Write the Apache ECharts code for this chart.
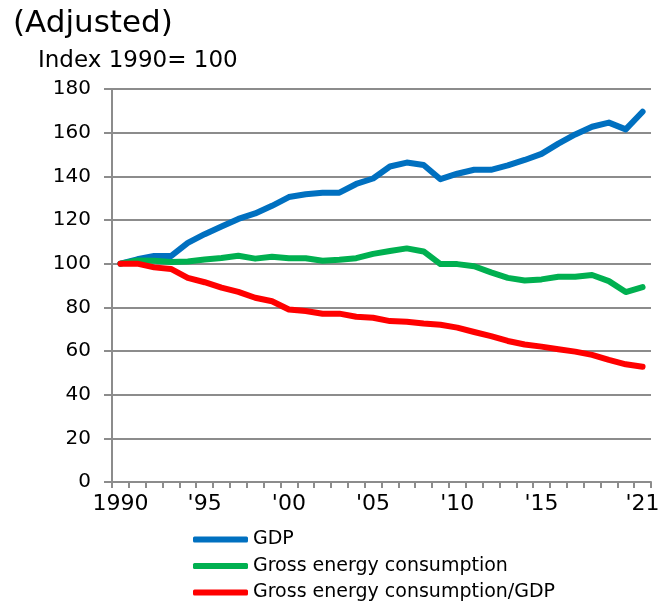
<!DOCTYPE html>
<html>
<head>
<meta charset="utf-8">
<script src="https://cdn.jsdelivr.net/npm/echarts@6/dist/echarts.min.js"></script>
<style>
  html, body { margin: 0; padding: 0; background: #fff; }
  #chart { width: 671px; height: 603px; }
</style>
</head>
<body>
<div id="chart"></div>
<script>
var years = [];
for (var y = 1990; y <= 2021; y++) years.push(String(y));
var tickLabels = {'1990': '1990', '1995': "'95", '2000': "'00", '2005': "'05", '2010': "'10", '2015': "'15", '2021': "'21"};

var gdp = [100, 102, 103.5, 103.5, 109.5, 113.5, 117, 120.5, 123, 126.5, 130.5, 131.8, 132.5, 132.5, 136.5, 139, 144.5, 146.3, 145.2, 138.7, 141.2, 143, 143, 145, 147.5, 150.3, 155, 159.2, 162.7, 164.6, 161.5, 169.6];
var energy = [100, 101.5, 101.3, 100.8, 101, 101.9, 102.6, 103.6, 102.3, 103.2, 102.5, 102.5, 101.3, 101.8, 102.5, 104.5, 105.8, 107, 105.6, 99.8, 99.8, 98.8, 96, 93.5, 92.3, 92.8, 94, 94, 94.8, 92, 87, 89.3];
var intensity = [100, 100, 98.3, 97.6, 93.5, 91.5, 89, 87.1, 84.4, 82.8, 79, 78.3, 77.1, 77.1, 75.7, 75.2, 73.7, 73.4, 72.6, 72, 70.7, 68.7, 66.8, 64.6, 63, 62, 60.8, 59.7, 58.2, 55.9, 53.9, 52.8];

var font = 'DejaVu Sans, Verdana, sans-serif';
var grey = '#8c8c8c';

var chart = echarts.init(document.getElementById('chart'));
chart.setOption({
  animation: false,
  backgroundColor: '#fff',
  textStyle: { fontFamily: font, color: '#000' },
  title: [
    { text: '(Adjusted)', left: 8, top: 3, textStyle: { fontSize: 31, fontWeight: 'normal', color: '#000', fontFamily: font } },
    { text: 'Index 1990= 100', left: 33, top: 45, textStyle: { fontSize: 23, fontWeight: 'normal', color: '#000', fontFamily: font } }
  ],
  legend: {
    orient: 'vertical',
    left: 193,
    top: 530,
    padding: 0,
    itemWidth: 55,
    itemHeight: 6,
    itemGap: 7.5,
    icon: 'roundRect',
    textStyle: { fontSize: 19, color: '#000', fontFamily: font },
    data: ['GDP', 'Gross energy consumption', 'Gross energy consumption/GDP']
  },
  grid: { left: 112, right: 20, top: 89, bottom: 121, containLabel: false },
  xAxis: {
    type: 'category',
    data: years,
    boundaryGap: true,
    axisLine: { lineStyle: { color: grey, width: 2 } },
    axisTick: { show: true, interval: 0, length: 6, lineStyle: { color: grey, width: 2 } },
    axisLabel: {
      interval: 0,
      margin: 11,
      fontSize: 22,
      color: '#000',
      fontFamily: font,
      formatter: function (v) { return tickLabels[v] || ''; }
    },
    splitLine: { show: false }
  },
  yAxis: {
    type: 'value',
    min: 0,
    max: 180,
    interval: 20,
    axisLine: { show: true, lineStyle: { color: grey, width: 2 } },
    axisTick: { show: true, length: 8, lineStyle: { color: grey, width: 2 } },
    axisLabel: { fontSize: 20, color: '#000', fontFamily: font, margin: 21 },
    splitLine: { lineStyle: { color: grey, width: 2 } }
  },
  series: [
    { name: 'GDP', type: 'line', data: gdp, showSymbol: false, color: '#0070c0', lineStyle: { width: 6, cap: 'round', join: 'round' } },
    { name: 'Gross energy consumption', type: 'line', data: energy, showSymbol: false, color: '#00b050', lineStyle: { width: 6, cap: 'round', join: 'round' } },
    { name: 'Gross energy consumption/GDP', type: 'line', data: intensity, showSymbol: false, color: '#ff0000', lineStyle: { width: 6, cap: 'round', join: 'round' } }
  ]
});
</script>
</body>
</html>
